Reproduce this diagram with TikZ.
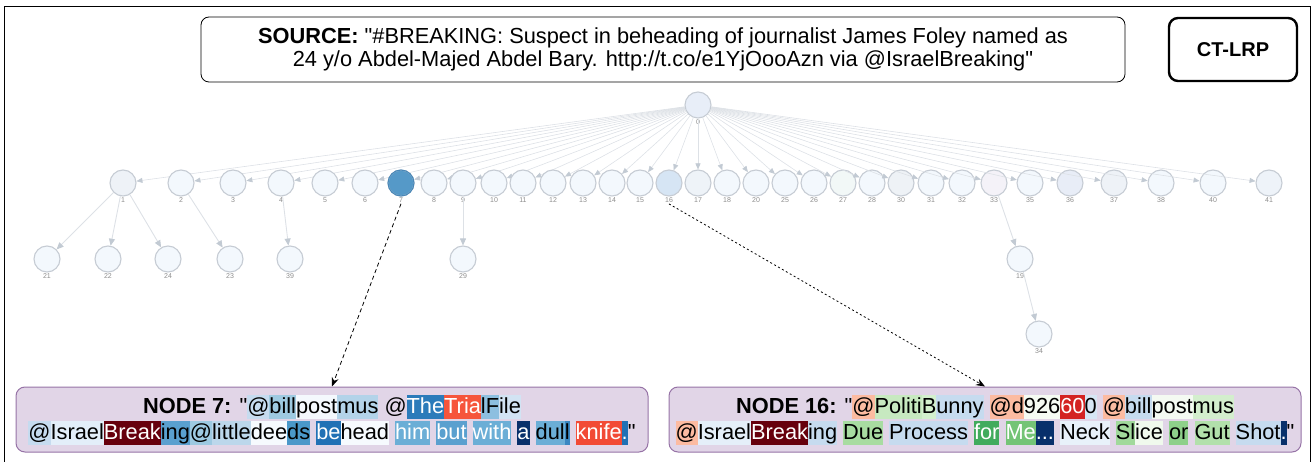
\documentclass[tikz,border=0pt]{standalone}
\usepackage{fontspec}
\setmainfont{Liberation Sans}[Ligatures=TeXOff]
\usetikzlibrary{arrows.meta}
\setlength{\fboxsep}{0pt}
\newcommand{\hk}[2]{\colorbox[HTML]{#1}{\vrule width0pt height18.5pt depth5.5pt #2}}
\newcommand{\hw}[2]{\colorbox[HTML]{#1}{\vrule width0pt height18.5pt depth5.5pt \color{white}#2}}
\definecolor{gborder}{HTML}{C6CCD4}
\definecolor{gfill}{HTML}{F3F8FD}
\definecolor{fanline}{HTML}{DDE1E6}
\definecolor{fanhead}{HTML}{C2CAD3}
\definecolor{boxfill}{HTML}{E1D5E7}
\definecolor{boxdraw}{HTML}{9673A6}
\tikzset{
  gn/.style={circle, draw=gborder, line width=1.1pt, minimum size=26pt, inner sep=0pt, fill=gfill},
  lbl/.style={font=\fontsize{7}{8}\selectfont, text=black!45, inner sep=1pt},
  fan/.style={draw=fanline, line width=0.6pt, -{Triangle[length=6pt,width=5pt,fill=fanhead,color=fanhead]}},
  tedge/.style={draw=fanline, line width=0.9pt, -{Triangle[length=7pt,width=6pt,fill=fanhead,color=fanhead]}},
  srcbox/.style={draw=black, line width=0.8pt, rounded corners=8pt, fill=white, align=center, font=\fontsize{21.8}{23.5}\selectfont},
  ctbox/.style={draw=black, line width=2.4pt, rounded corners=9pt, fill=white, font=\fontsize{20}{24}\selectfont\bfseries},
  nodebox/.style={draw=boxdraw, fill=boxfill, line width=1pt, rounded corners=9pt, align=center, minimum width=632pt, minimum height=65pt, inner sep=0pt, font=\fontsize{21.8}{26}\selectfont},
  pointer/.style={draw=black, line width=0.8pt, -{Stealth[length=9pt,width=7pt]}}
}
\begin{document}
\begin{tikzpicture}[x=1pt,y=-1pt]
\useasboundingbox (0,0) rectangle (1315,462);
\draw[black, line width=0.8pt] (4.5,462) -- (4.5,6.5) -- (1310.5,6.5) -- (1310.5,462);

\node[srcbox, minimum width=924pt, minimum height=65pt] (src) at (663,49.5)
 {{\bfseries SOURCE:} "\#BREAKING: Suspect in beheading of journalist James Foley named as\\
  24 y/o Abdel-Majed Abdel Bary. http://t.co/e1YjOooAzn via @IsraelBreaking"};
\node[ctbox, minimum width=128pt, minimum height=63pt] (ct) at (1233,49.5) {CT-LRP};

% root
\node[gn, fill={rgb,255:red,232;green,238;blue,248}, label={[lbl,name=l0]below:0}] (n0) at (698,105) {};

% first level
\foreach \n/\x/\f in {1/123/EEF2F7, 2/181/F3F8FD, 3/233/F3F8FD, 4/281/F3F8FD, 5/325/F3F8FD,
  6/365/F3F8FD, 7/401/5599C8, 8/434/F3F8FD, 9/463/F3F8FD, 10/494/F3F8FD, 11/523/F3F8FD,
  12/553/F3F8FD, 13/583/F3F8FD, 14/612/F3F8FD, 15/640/F3F8FD, 16/669/D6E5F4, 17/698/EEF3F8,
  18/727/F3F8FD, 20/756/F3F8FD, 25/785/F3F8FD, 26/814/F3F8FD, 27/843/F2F8F7, 28/872/F3F8FD,
  30/901/EEF2F6, 31/931/F3F8FD, 32/962/F3F8FD, 33/994/F4F2F8, 35/1030/F3F8FD, 36/1070/E8EDF7,
  37/1114/EEF2F7, 38/1161/F3F8FD, 40/1213/F3F8FD, 41/1269/EEF3F9}
{
  \definecolor{tmpfill}{HTML}{\f}
  \node[gn, fill=tmpfill, label={[lbl,name=l\n]below:\n}] (n\n) at (\x,183) {};
  \draw[fan] (n0) -- (n\n);
}
\draw[draw={rgb,255:red,74;green,136;blue,184}, line width=1.1pt] (n7) circle (13pt);

% second level
\foreach \n/\x in {21/47, 22/108, 24/168, 23/230, 39/290, 29/463, 19/1020}
{
  \node[gn, label={[lbl,name=l\n]below:\n}] (n\n) at (\x,259) {};
}
\node[gn, label={[lbl,name=l34]below:34}] (n34) at (1039,334) {};

\draw[tedge] (n1) -- (n21);
\draw[tedge] (n1) -- (n22);
\draw[tedge] (n1) -- (n24);
\draw[tedge] (n2) -- (n23);
\draw[tedge] (n4) -- (n39);
\draw[tedge] (n9) -- (n29);
\draw[tedge] (n33) -- (n19);
\draw[tedge] (n19) -- (n34);

% explanation boxes
\node[nodebox] (b7) at (332,419.5)
 {{\bfseries NODE 7:} "\hk{C6DBEF}{@}\hk{9ECAE1}{bill}\hk{F4F8FD}{post}\hk{B3D3E9}{mus} @\hw{2B7BBA}{The}\hw{F6553C}{Tria}\hk{8DBFE0}{lF}\hk{D2E3F3}{ile}\\
  \hk{C6DBEF}{@}\hk{E3EEF9}{Israel}\hw{67000D}{Break}\hk{5AA0CF}{ing}\hk{9DC9E1}{@}\hk{BCD7EB}{little}\hk{F6FAFE}{dee}\hk{4A98C9}{ds} \hw{2171B5}{be}\hk{F6FAFE}{head} \hw{6BAED6}{him} \hw{5AA0CF}{but} \hw{6BAED6}{with} \hw{08306B}{a} \hk{6BAED6}{dul}\hk{3A87C2}{l} \hw{F24A35}{knife}\hw{2171B5}{.}"};

\node[nodebox] (b16) at (985,419.5)
 {{\bfseries NODE 16:} "\hk{FCBBA1}{@}\hk{C7E9C0}{Politi}\hk{D3EFCD}{B}\hk{C6DBEF}{unny} \hk{FCBBA1}{@d}\hk{F5FBF3}{926}\hw{D42322}{60}\hk{D6E6F4}{0} \hk{FCBBA1}{@}\hk{C6DBEF}{bill}\hk{F4FAF2}{post}\hk{D3EECD}{mus}\\
  \hk{FCBBA1}{@}\hk{E5EFF9}{Israel}\hw{67000D}{Break}\hk{C6DBEF}{ing} \hk{A8DCA1}{Due} \hk{C6DBEF}{Process} \hw{41AB5D}{for} \hw{74C476}{Me}\hw{08306B}{...} \hk{E8F1FA}{Neck} \hk{A1D99B}{Sl}\hk{F0F9ED}{ice} \hk{8ED08A}{or} \hk{B2E0AB}{Gut} \hk{C6DBEF}{Shot}\hw{08306B}{.}"};

\draw[pointer, dash pattern=on 4pt off 3pt] (l7.south) -- (b7.north);
\draw[pointer, dash pattern=on 2pt off 2.5pt] (l16.south) -- (b16.north);
\end{tikzpicture}
\end{document}
